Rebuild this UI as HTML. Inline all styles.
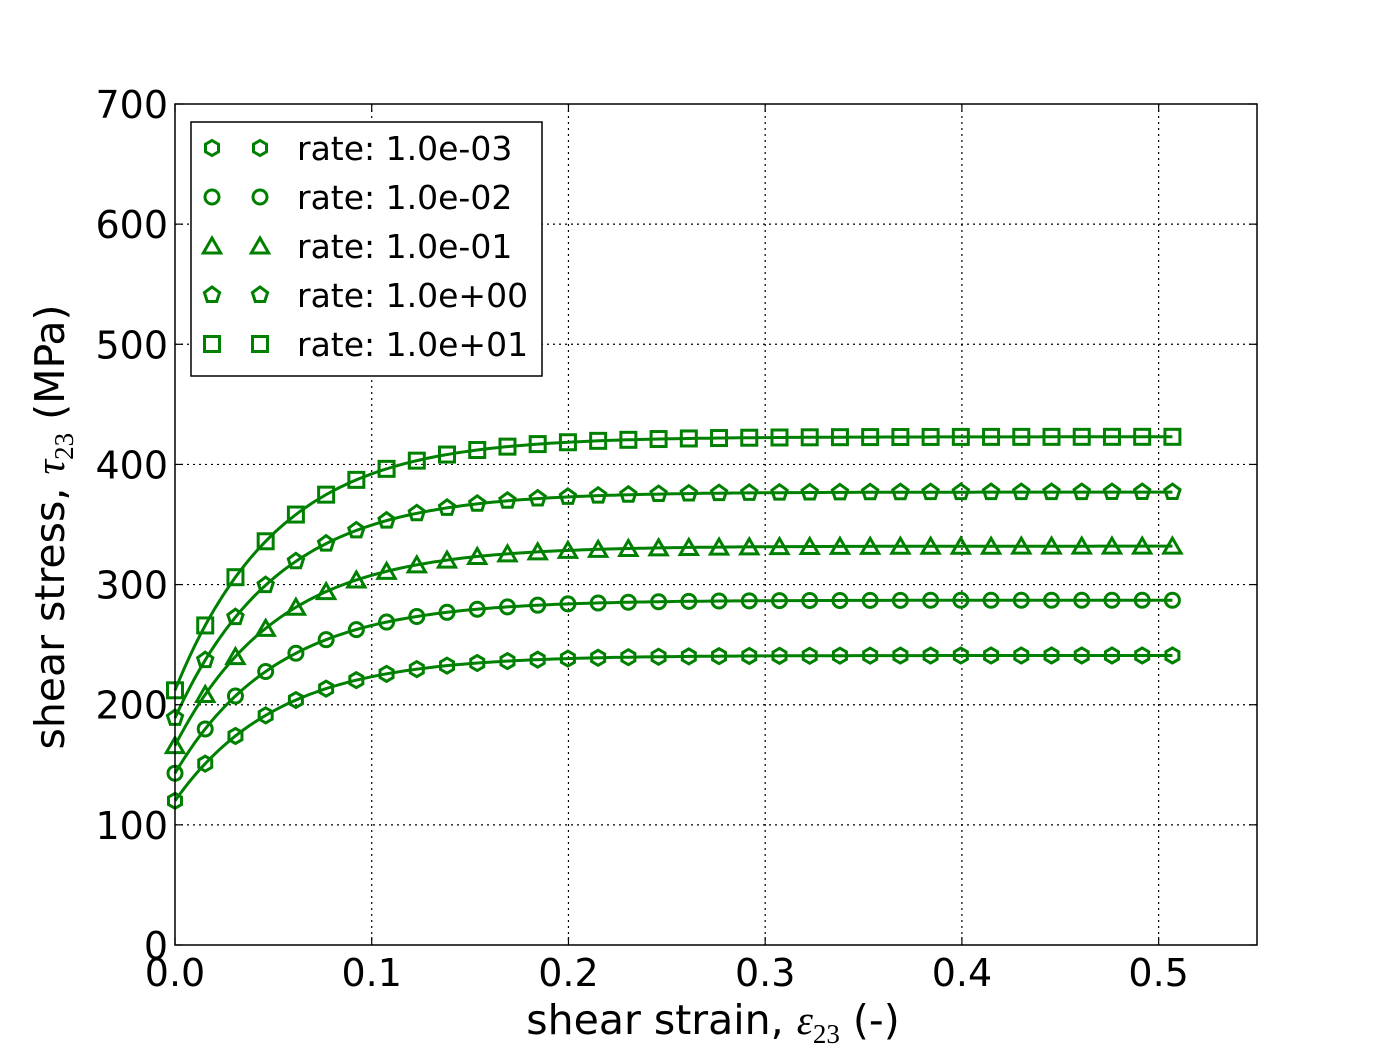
<!DOCTYPE html>
<html><head><meta charset="utf-8"><style>
body{margin:0;background:#fff;}
svg{display:block;font-family:"DejaVu Sans","Liberation Sans",sans-serif;}
</style></head><body>
<svg id="s" width="1396" height="1050" xmlns="http://www.w3.org/2000/svg">
<rect width="1396" height="1050" fill="#fff"/>
<g id="grid" stroke="#000" stroke-width="1.2" stroke-dasharray="2,4"></g>
<g id="curves" fill="none" stroke="#008000" stroke-width="3"></g>
<rect x="175" y="104" width="1082" height="841" fill="none" stroke="#000" stroke-width="1.5"/>
<g id="ticks" stroke="#000" stroke-width="1.2"></g>
<g id="labels" font-size="38" fill="#000"></g>
<text x="713" y="1034" font-size="41" text-anchor="middle">shear strain, <tspan font-family="Liberation Serif,serif" font-style="italic">ε</tspan><tspan font-size="27" dy="9" font-family="Liberation Serif,serif">23</tspan><tspan dy="-9"> (-)</tspan></text>
<text transform="translate(64,527) rotate(-90)" font-size="41" text-anchor="middle">shear stress, <tspan font-family="Liberation Serif,serif" font-style="italic">τ</tspan><tspan font-size="27" dy="9" font-family="Liberation Serif,serif">23</tspan><tspan dy="-9"> (MPa)</tspan></text>
<rect x="191" y="122" width="351" height="254" fill="#fff" stroke="#000" stroke-width="1.5"/>
<g id="legend" font-size="33"></g>
</svg>
<script>
const NS="http://www.w3.org/2000/svg";
function el(p,t,a){const e=document.createElementNS(NS,t);for(const k in a)e.setAttribute(k,a[k]);p.appendChild(e);return e;}
const X=v=>175+v/0.55*1082, Y=v=>945-v*841/700;
const g=document.getElementById('grid'),tk=document.getElementById('ticks'),lb=document.getElementById('labels');
for(let i=0;i<=5;i++){const x=X(i*0.1);if(i>0)el(g,'line',{x1:x,x2:x,y1:104,y2:945});
el(tk,'line',{x1:x,x2:x,y1:945,y2:937});el(tk,'line',{x1:x,x2:x,y1:104,y2:112});
const t=el(lb,'text',{x:x,y:986,'text-anchor':'middle'});t.textContent=(i/10).toFixed(1);}
for(let i=0;i<=7;i++){const y=Y(i*100);if(i>0&&i<7)el(g,'line',{x1:175,x2:1257,y1:y,y2:y});
el(tk,'line',{x1:175,x2:183,y1:y,y2:y});el(tk,'line',{x1:1257,x2:1249,y1:y,y2:y});
const t=el(lb,'text',{x:168,y:y+14,'text-anchor':'end'});t.textContent=i*100;}
function poly(n,r,rot){let p=[];for(let k=0;k<n;k++){const a=rot+k*2*Math.PI/n;p.push((r*Math.sin(a)).toFixed(2)+','+(-r*Math.cos(a)).toFixed(2));}return p.join(' ');}
function marker(p,type,x,y){
 if(type==0)el(p,'polygon',{points:poly(6,7.5,0),transform:`translate(${x},${y})`});
 else if(type==1)el(p,'circle',{cx:x,cy:y,r:7});
 else if(type==2)el(p,'polygon',{points:poly(3,10,0),transform:`translate(${x},${y+2})`});
 else if(type==3)el(p,'polygon',{points:poly(5,8,0),transform:`translate(${x},${y})`});
 else el(p,'rect',{x:x-7.5,y:y-7.5,width:15,height:15});
}
const t0=[120,143,166,189,212],ts=[241,287,332,377,423],c=0.052,xm=0.507;
const cv=document.getElementById('curves');
for(let s=0;s<5;s++){
 const f=x=>t0[s]+(ts[s]-t0[s])*(1-Math.exp(-x/c));
 let d='';for(let i=0;i<=200;i++){const x=xm*i/200;d+=(i?'L':'M')+X(x).toFixed(1)+','+Y(f(x)).toFixed(1);}
 el(cv,'path',{d:d});
 for(let i=0;i<=33;i++){const x=xm*i/33;marker(cv,s,X(x),Y(f(x)));}
}
const lg=document.getElementById('legend');const names=['1.0e-03','1.0e-02','1.0e-01','1.0e+00','1.0e+01'];
const lm=el(lg,'g',{fill:'none',stroke:'#008000','stroke-width':3});
for(let s=0;s<5;s++){const y=148+s*49;marker(lm,s,212,y);marker(lm,s,260,y);
const t=el(lg,'text',{x:297,y:y+12});t.textContent='rate: '+names[s];}
</script>
</body></html>
